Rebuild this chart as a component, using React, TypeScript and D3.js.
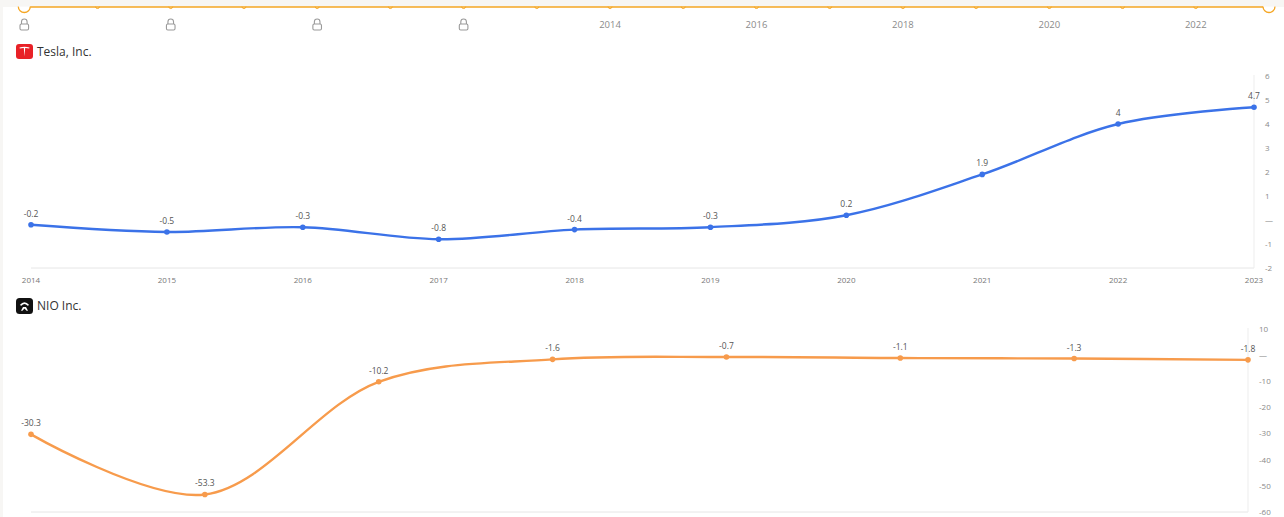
import React from "react";
import * as d3 from "d3";

// ---------- data ----------
const timelineSlots = d3.range(18);
const timelineLabels: (string | null)[] = ["lock", "lock", "lock", "lock", "2014", "2016", "2018", "2020", "2022"];

const teslaYears = ["2014", "2015", "2016", "2017", "2018", "2019", "2020", "2021", "2022", "2023"];
const teslaValues = [-0.2, -0.5, -0.3, -0.8, -0.4, -0.3, 0.2, 1.9, 4, 4.7];
const teslaTicks = [6, 5, 4, 3, 2, 1, 0, -1, -2];

const nioYears = ["2016", "2017", "2018", "2019", "2020", "2021", "2022", "2023"];
const nioValues = [-30.3, -53.3, -10.2, -1.6, -0.7, -1.1, -1.3, -1.8];
const nioTicks = [10, 0, -10, -20, -30, -40, -50, -60];

const W = 1284;
const H = 517;
const FONT = "'Open Sans', 'Noto Sans', sans-serif";
const ORANGE = "#f5a623";

if (typeof document !== "undefined") {
  document.body.style.margin = "0";
  document.body.style.overflow = "hidden";
}

function Lock({ cx, cy }: { cx: number; cy: number }) {
  return (
    <g stroke="#9a9a9a" strokeWidth={1.1} fill="none">
      <path d={`M${cx - 2.8},${cy - 1} v-2.2 a2.8,2.8 0 0 1 5.6,0 v2.2`} />
      <rect x={cx - 4.3} y={cy - 1} width={8.6} height={6} rx={1.4} />
    </g>
  );
}

type PanelProps = {
  years: string[];
  values: number[];
  ticks: number[];
  x0: number;
  x1: number;
  yTop: number;
  yBottom: number;
  color: string;
  fmt: (v: number) => string;
  labelOffset: number;
  showXLabels: boolean;
};

function Panel({ years, values, ticks, x0, x1, yTop, yBottom, color, fmt, labelOffset, showXLabels }: PanelProps) {
  const x = d3.scalePoint<string>().domain(years).range([x0, x1]);
  const y = d3
    .scaleLinear()
    .domain([d3.min(ticks)!, d3.max(ticks)!])
    .range([yBottom, yTop]);
  const line = d3
    .line<number>()
    .x((_, i) => x(years[i])!)
    .y((v) => y(v))
    .curve(d3.curveCatmullRom.alpha(0.5));
  return (
    <g>
      <line x1={x0} x2={x1} y1={yBottom} y2={yBottom} stroke="#e6e6e6" strokeWidth={1} />
      <line x1={x1} x2={x1} y1={yTop - 1} y2={yBottom} stroke="#ededed" strokeWidth={1} />
      {ticks.map((t) => (
        <text
          key={t}
          x={x1 + 11}
          y={y(t)}
          dy="0.35em"
          fontSize={8}
          fill="#8a8a8a"
          fontFamily={FONT}
        >
          {t === 0 ? "—" : String(t)}
        </text>
      ))}
      {showXLabels &&
        years.map((yr) => (
          <text
            key={yr}
            x={x(yr)}
            y={yBottom + 12}
            dy="0.35em"
            textAnchor="middle"
            fontSize={8}
            fill="#777"
            fontFamily={FONT}
          >
            {yr}
          </text>
        ))}
      <path d={line(values) || ""} fill="none" stroke={color} strokeWidth={2.4} strokeLinecap="round" />
      {values.map((v, i) => (
        <g key={i}>
          <circle cx={x(years[i])} cy={y(v)} r={2.8} fill={color} />
          <text
            x={x(years[i])}
            y={y(v) - labelOffset}
            textAnchor="middle"
            fontSize={8.5}
            fill="#555"
            fontFamily={FONT}
          >
            {fmt(v)}
          </text>
        </g>
      ))}
    </g>
  );
}

export default function App() {
  const tx = d3.scalePoint<number>().domain(timelineSlots).range([24.3, 1269]);
  const labelSlots = timelineLabels.map((_, i) => i * 2);
  return (
    <svg width={W} height={H} style={{ display: "block" }}>
      <rect x={0} y={0} width={W} height={H} fill="#f7f6f4" />
      <rect x={3} y={7} width={W - 3} height={H - 7} fill="#ffffff" />
      {/* timeline */}
      {timelineSlots.map((s) => {
        const big = s === 0 || s === timelineSlots.length - 1;
        return (
          <circle
            key={s}
            cx={tx(s)}
            cy={6.5}
            r={big ? 6 : 2}
            fill="#fff"
            stroke={ORANGE}
            strokeWidth={big ? 1.3 : 1}
          />
        );
      })}
      <rect x={0} y={0} width={W} height={6.6} fill="#f7f6f4" />
      <line x1={tx(0)! + 6} x2={tx(17)! - 6} y1={7} y2={7} stroke={ORANGE} strokeWidth={1.3} />
      {timelineLabels.map((lab, i) =>
        lab === "lock" ? (
          <Lock key={i} cx={tx(labelSlots[i])!} cy={25} />
        ) : (
          <text
            key={i}
            x={tx(labelSlots[i])}
            y={25}
            dy="0.35em"
            textAnchor="middle"
            fontSize={9.5}
            fill="#8a8a8a"
            fontFamily={FONT}
          >
            {lab}
          </text>
        )
      )}

      {/* Tesla title */}
      <rect x={16} y={44} width={17} height={15} rx={3} fill="#e82127" />
      <path
        d="M19.5,47.6 Q24.5,46 29.5,47.6 L29.2,48.6 Q27,48 25.2,48.1 L24.5,56.5 L23.8,48.1 Q22,48 19.8,48.6 Z"
        fill="#fff"
      />
      <text x={37} y={51.5} dy="0.35em" fontSize={12} fill="#333" fontFamily={FONT}>
        Tesla, Inc.
      </text>

      <Panel
        years={teslaYears}
        values={teslaValues}
        ticks={teslaTicks}
        x0={31}
        x1={1254}
        yTop={76}
        yBottom={268}
        color="#3b72e8"
        fmt={(v) => String(v)}
        labelOffset={8}
        showXLabels={true}
      />

      {/* NIO title */}
      <rect x={16} y={298} width={17} height={16} rx={3.5} fill="#111" />
      <path
        d="M19.8,305 Q24.5,299.5 29.2,305 L27.6,305.8 Q24.5,302.4 21.4,305.8 Z M21,310.8 L23,307 L26,307 L28,310.8 L26.6,310.8 L24.5,308.6 L22.4,310.8 Z"
        fill="#fff"
      />
      <text x={37} y={306} dy="0.35em" fontSize={12} fill="#333" fontFamily={FONT}>
        NIO Inc.
      </text>

      <Panel
        years={nioYears}
        values={nioValues}
        ticks={nioTicks}
        x0={31}
        x1={1248}
        yTop={329}
        yBottom={512}
        color="#f79b4c"
        fmt={(v) => String(v)}
        labelOffset={8}
        showXLabels={false}
      />
    </svg>
  );
}
